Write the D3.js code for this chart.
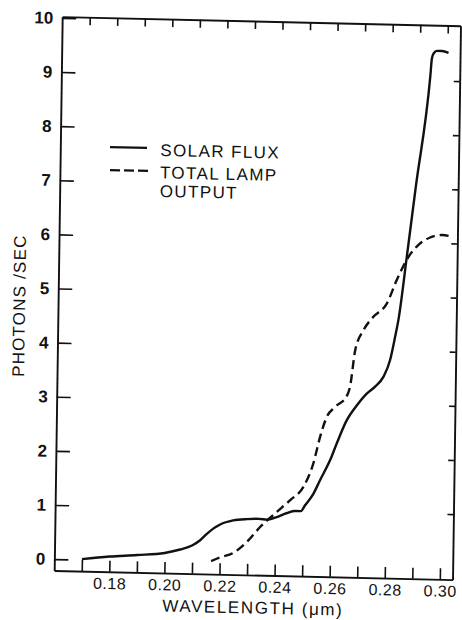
<!DOCTYPE html>
<html><head><meta charset="utf-8">
<script src="https://cdn.jsdelivr.net/npm/d3@7"></script>
<style>html,body{margin:0;padding:0;background:#fff;} svg{display:block;}</style>
</head><body><svg id="c" width="462" height="620"></svg>
<script>
// ---- data (wavelength in µm, photons/sec) ----
const solarWavelength = [0.170,0.180,0.190,0.200,0.2056,0.2099,0.2128,0.2150,0.2175,0.2200,0.2247,0.2297,0.2340,0.2370,0.2399,0.2442,0.2471,0.2492,0.2507,0.2537,0.2560,0.2596,0.2619,0.2654,0.2690,0.2725,0.2755,0.2785,0.2808,0.2825,0.2836,0.2864,0.2892,0.2939,0.2944,0.2950,0.2962,0.2980,0.3004];
const solarFlux       = [0.01,0.07,0.11,0.16,0.23,0.31,0.41,0.52,0.63,0.71,0.79,0.82,0.83,0.82,0.86,0.95,0.99,0.99,1.10,1.32,1.57,1.95,2.26,2.69,2.97,3.19,3.32,3.51,3.82,4.25,4.56,5.77,7.02,9.07,9.41,9.50,9.55,9.55,9.52];
const lampWavelength  = [0.2169,0.2201,0.2249,0.2298,0.2345,0.2399,0.2453,0.2500,0.2535,0.2558,0.2581,0.2611,0.2653,0.2664,0.2681,0.2710,0.2745,0.2793,0.2828,0.2869,0.2905,0.2947,0.2990,0.3020];
const lampOutput      = [0.03,0.10,0.19,0.40,0.68,0.94,1.19,1.44,1.88,2.37,2.74,2.93,3.14,3.31,3.99,4.36,4.61,4.86,5.30,5.73,5.96,6.10,6.15,6.13];
const yTickValues     = [0,1,2,3,4,5,6,7,8,9,10];
const rightTickValues = [1,2,3,4,5,6,7,8,9];
const xTickValues     = [0.17,0.18,0.19,0.20,0.21,0.22,0.23,0.24,0.25,0.26,0.27,0.28,0.29,0.30];
const xLabelValues    = [0.18,0.20,0.22,0.24,0.26,0.28,0.30];
const legendSolar     = ["SOLAR FLUX"];
const legendLamp      = ["TOTAL LAMP","OUTPUT"];
const xTitle = "WAVELENGTH (\u03BCm)";
const yTitle = "PHOTONS /SEC";

// ---- layout ----
const W = 398.3, H = 553.85;
const FONT = "'Liberation Sans', Arial, sans-serif";
const svg = d3.select("#c");
svg.append("rect").attr("width",462).attr("height",620).attr("fill","#fff");
// the scanned figure is slightly tilted: reproduce with an affine frame
const g = svg.append("g").attr("transform","matrix(1,0.02297,-0.01444,1,62.2,16.6)");

const x = d3.scaleLinear().domain([0.16, 0.3046]).range([0, W]);
const y = d3.scaleLinear().domain([-0.21, 10.024]).range([H, 0]);

function styleAxis(sel){
  sel.select(".domain").attr("stroke","#111").attr("stroke-width",1.9);
  sel.selectAll(".tick line").attr("stroke","#111").attr("stroke-width",1.6);
  sel.selectAll(".tick text").attr("fill","#111").attr("font-family",FONT);
}

// bottom axis
const gx = g.append("g").attr("transform",`translate(0,${H})`)
  .call(d3.axisBottom(x).tickValues(xTickValues).tickSizeInner(-11).tickSizeOuter(0).tickPadding(6)
    .tickFormat(d => xLabelValues.some(v => Math.abs(v-d)<1e-9) ? d3.format(".2f")(d) : ""));
styleAxis(gx);
gx.attr("font-size",16).selectAll(".tick text").attr("font-size",16).attr("letter-spacing",0.5);

// top axis
const gt = g.append("g")
  .call(d3.axisTop(x).tickValues(xTickValues).tickSizeInner(-8).tickSizeOuter(0).tickFormat(""));
styleAxis(gt);

// left axis
const gy = g.append("g")
  .call(d3.axisLeft(y).tickValues(yTickValues).tickSizeInner(-14).tickSizeOuter(0).tickPadding(9).tickFormat(d3.format("d")));
styleAxis(gy);
gy.selectAll(".tick text").attr("font-size",17).attr("font-weight","bold");

// right axis
const gr = g.append("g").attr("transform",`translate(${W},0)`)
  .call(d3.axisRight(y).tickValues(rightTickValues).tickSizeInner(-6).tickSizeOuter(0).tickFormat(""));
styleAxis(gr);

// curves
const solar = solarWavelength.map((w,i)=>[w, solarFlux[i]]);
const lamp  = lampWavelength.map((w,i)=>[w, lampOutput[i]]);
const line = d3.line().x(d=>x(d[0])).y(d=>y(d[1])).curve(d3.curveMonotoneX);

g.append("path").datum(solar).attr("d",line)
  .attr("fill","none").attr("stroke","#111").attr("stroke-width",2.4).attr("stroke-linejoin","round");
g.append("path").datum(lamp).attr("d",line)
  .attr("fill","none").attr("stroke","#111").attr("stroke-width",2.4).attr("stroke-dasharray","9,5");

// legend
const lg = g.append("g").attr("font-family",FONT).attr("font-size",17).attr("fill","#111").attr("letter-spacing",1.4);
lg.append("line").attr("x1",49.7).attr("x2",86.7).attr("y1",129.3).attr("y2",129.3)
  .attr("stroke","#111").attr("stroke-width",2.2);
lg.append("text").attr("x",100).attr("y",137).text(legendSolar[0]);
lg.append("line").attr("x1",50).attr("x2",88).attr("y1",152.3).attr("y2",152.3)
  .attr("stroke","#111").attr("stroke-width",2.2).attr("stroke-dasharray","10,4");
lg.selectAll("text.lamp").data(legendLamp).join("text").attr("class","lamp")
  .attr("x",100).attr("y",(d,i)=>159.4 + i*18.6).text(d=>d);

// axis titles
g.append("text").attr("x",W/2).attr("y",H+38.5).attr("text-anchor","middle")
  .attr("font-family",FONT).attr("font-size",17).attr("letter-spacing",1.6).attr("fill","#111").text(xTitle);
g.append("text").attr("transform","translate(-33,290) rotate(-90)").attr("text-anchor","middle")
  .attr("font-family",FONT).attr("font-size",17).attr("letter-spacing",1.2).attr("fill","#111").text(yTitle);
</script></body></html>
